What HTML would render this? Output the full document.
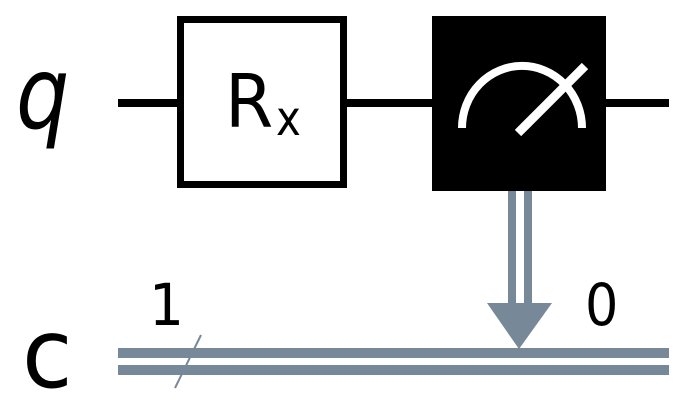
<!DOCTYPE html>
<html><head><style>body{margin:0;background:#fff}svg{display:block}</style></head><body>
<svg width="697" height="407" viewBox="0 0 697 407" xmlns="http://www.w3.org/2000/svg" font-family="DejaVu Sans, Liberation Sans, sans-serif">
<rect width="697" height="407" fill="#fff"/>
<line x1="118" y1="103" x2="669" y2="103" stroke="#000" stroke-width="8"/>
<rect x="180.5" y="19.5" width="163" height="165" fill="#fff" stroke="#000" stroke-width="7"/>
<text transform="translate(225,127) scale(1.12,1.2)" font-size="62" fill="#000">R</text>
<text transform="translate(276,135) scale(1.05,1.2)" font-size="40" fill="#000">x</text>
<rect x="432" y="16" width="174" height="175" fill="#000"/>
<path d="M462,128 A58,60 0 0 1 582,128" fill="none" stroke="#fff" stroke-width="8"/>
<line x1="518" y1="133" x2="585" y2="66" stroke="#fff" stroke-width="9"/>
<line x1="512" y1="191" x2="512" y2="305" stroke="#778899" stroke-width="8"/>
<line x1="528" y1="191" x2="528" y2="305" stroke="#778899" stroke-width="8"/>
<polygon points="487,303 552,303 519,349" fill="#778899"/>
<line x1="118" y1="353" x2="669" y2="353" stroke="#778899" stroke-width="10"/>
<line x1="118" y1="370" x2="669" y2="370" stroke="#778899" stroke-width="10"/>
<line x1="201" y1="335" x2="175" y2="388" stroke="#778899" stroke-width="2"/>
<text transform="translate(16,128) scale(1.05,1.25)" font-size="80" font-style="italic" fill="#000">q</text>
<text transform="translate(22,387) scale(1.15,1.2)" font-size="80" fill="#000">c</text>
<text transform="translate(149,325) scale(1.1,1.15)" font-size="50" fill="#000">1</text>
<text transform="translate(585,325) scale(1.05,1.15)" font-size="50" fill="#000">0</text>
</svg>
</body></html>
